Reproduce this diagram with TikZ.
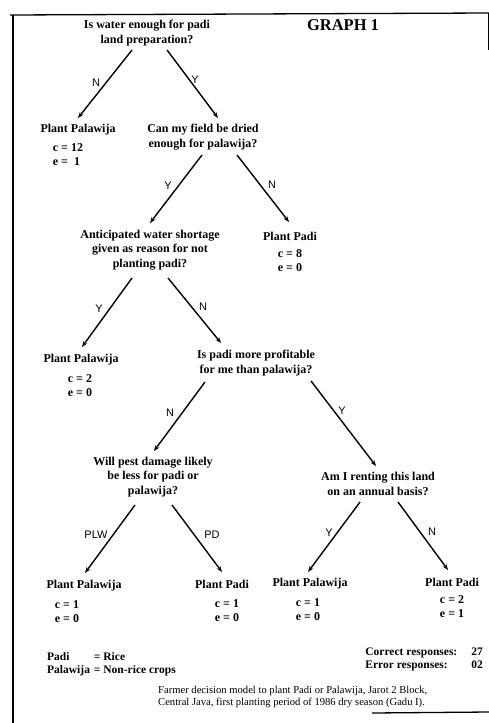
\documentclass[tikz,border=0pt]{standalone}
\usepackage{fontspec}
\setmainfont{Liberation Serif}
\newfontfamily\labfont{Liberation Sans}
\usetikzlibrary{arrows.meta,calc}
\tikzset{
  q/.style={align=center, inner sep=0pt, font=\bfseries\fontsize{12}{14.5}\selectfont},
  leaf/.style={inner sep=0pt, font=\bfseries\fontsize{12}{14.5}\selectfont},
  stats/.style={align=left, inner sep=0pt, font=\bfseries\fontsize{12}{14}\selectfont},
  lab/.style={inner sep=0pt, font=\labfont\fontsize{11}{13}\selectfont},
  arr/.style={line width=1.4pt, -{Stealth[length=6pt,width=4.5pt]}},
  frame/.style={line width=1.3pt}
}
\begin{document}
\begin{tikzpicture}[x=1pt,y=-1pt]
\useasboundingbox (0,0) rectangle (489,723);
% frame
\draw[frame] (10,15) -- (489,13);
\draw[line width=1.6pt] (13,15) -- (13,723);
\draw[line width=1pt] (488,13) -- (488,50);
\draw[frame] (372,713) -- (489,712);

\node[font=\bfseries\fontsize{16.5}{18}\selectfont, inner sep=0pt] (title) at (343,25) {GRAPH 1};

\node[q] (q1) at (147,33) {Is water enough for padi\\land preparation?};
\node[leaf] (pw1) at (78,130) {Plant Palawija};
\node[stats] (s1) at (68,155) {c = 12\\e =\ \ 1};
\node[q] (q2) at (203,137) {Can my field be dried\\enough for palawija?};
\node[q] (q3) at (150,250) {Anticipated water shortage\\given as reason for not\\planting padi?};
\node[leaf] (pd1) at (290,236) {Plant Padi};
\node[stats] (s2) at (290,261) {c = 8\\e = 0};
\node[leaf] (pw2) at (81,360) {Plant Palawija};
\node[stats] (s3) at (80,386) {c = 2\\e = 0};
\node[q] (q4) at (256,363) {Is padi more profitable\\for me than palawija?};
\node[q] (q5) at (153,477) {Will pest damage likely\\be less for padi or\\palawija?};
\node[q] (q6) at (378,484) {Am I renting this land\\on an annual basis?};
\node[leaf] (pw3) at (84,586) {Plant Palawija};
\node[stats] (s4) at (67,612) {c = 1\\e = 0};
\node[leaf] (pd2) at (222,584) {Plant Padi};
\node[stats] (s5) at (227,611) {c = 1\\e = 0};
\node[leaf] (pw4) at (310,584) {Plant Palawija};
\node[stats] (s6) at (308,610) {c = 1\\e = 0};
\node[leaf] (pd3) at (452,582) {Plant Padi};
\node[stats] (s7) at (452,607) {c = 2\\e = 1};

% connectors
\draw[arr] ($(q1)+(-15,17)$) -- ($(pw1)+(0,-12)$);
\draw[arr] ($(q1)+(20,17)$) -- ($(q2)+(15,-19)$);
\draw[arr] ($(q2)+(-1,18)$) -- ($(q3)+(0,-27)$);
\draw[arr] ($(q2)+(34,18)$) -- ($(pd1)+(-1,-14)$);
\draw[arr] ($(q3)+(-18,28)$) -- ($(pw2)+(1,-13)$);
\draw[arr] ($(q3)+(18,28)$) -- ($(q4)+(-35,-20)$);
\draw[arr] ($(q4)+(-51,19)$) -- ($(q5)+(1,-26)$);
\draw[arr] ($(q4)+(55,18)$) -- ($(q6)+(-2,-18)$);
\draw[arr] ($(q5)+(-18,28)$) -- ($(pw3)+(1,-13)$);
\draw[arr] ($(q5)+(19,28)$) -- ($(pd2)+(0,-12)$);
\draw[arr] ($(q6)+(-18,18)$) -- ($(pw4)+(-2,-12)$);
\draw[arr] ($(q6)+(20,18)$) -- ($(pd3)+(-4,-12)$);

% connector labels
\node[lab] (l1) at (96,83) {N};
\node[lab] (l2) at (195,80) {Y};
\node[lab] (l3) at (168,186) {Y};
\node[lab] (l4) at (272,185) {N};
\node[lab] (l5) at (99,309) {Y};
\node[lab] (l6) at (203,307) {N};
\node[lab] (l7) at (170,413) {N};
\node[lab] (l8) at (342,411) {Y};
\node[lab] (l9) at (96,535) {PLW};
\node[lab] (l10) at (212,535) {PD};
\node[lab] (l11) at (329,533) {Y};
\node[lab] (l12) at (432,532) {N};

% legend
\node[anchor=west, inner sep=0pt, font=\bfseries\fontsize{11.5}{13}\selectfont] (legend) at (47,664)
  {\begin{tabular}{@{}l@{\hspace{4pt}}l@{}}Padi & = Rice\\ Palawija & = Non-rice crops\end{tabular}};
\node[anchor=east, inner sep=0pt, font=\bfseries\fontsize{11.5}{13}\selectfont] (resp) at (483,659)
  {\begin{tabular}{@{}l@{\hspace{14pt}}r@{}}Correct responses: & 27\\ Error responses: & 02\end{tabular}};
\node[anchor=west, align=left, inner sep=0pt, font=\fontsize{10.6}{12.5}\selectfont] (caption) at (158,697)
  {Farmer decision model to plant Padi or Palawija, Jarot 2 Block,\\Central Java, first planting period of 1986 dry season (Gadu I).};
\end{tikzpicture}
\end{document}
